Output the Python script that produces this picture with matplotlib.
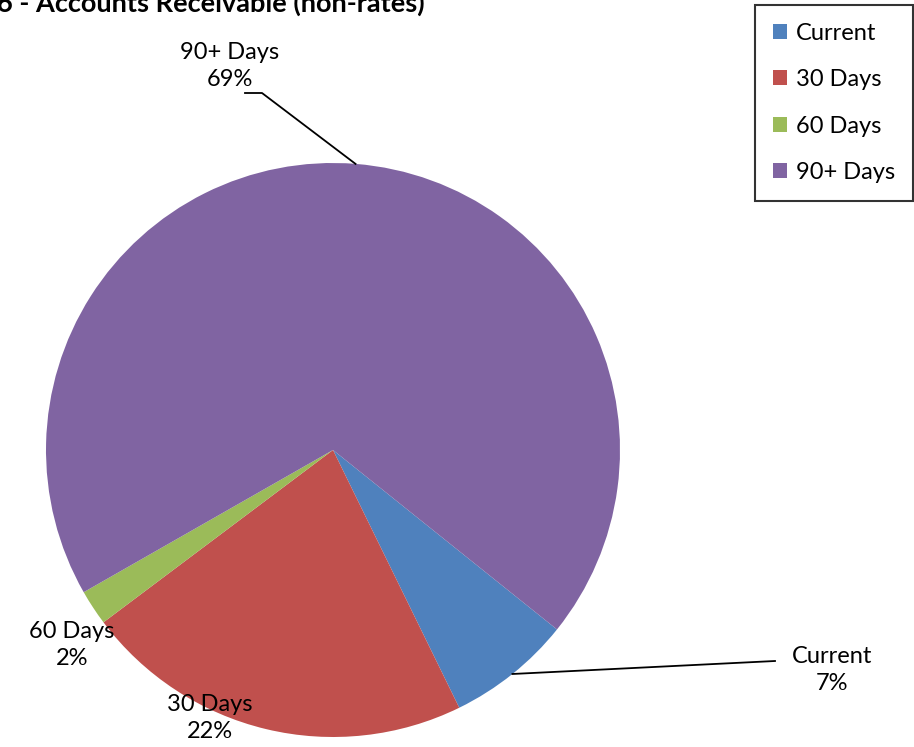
import numpy as np
import matplotlib.pyplot as plt

plt.rcParams["font.family"] = ["Lato", "DejaVu Sans"]

# data
categories = ["Current", "30 Days", "60 Days", "90+ Days"]
shares = [7, 22, 2, 69]
colors = ["#4F81BD", "#C0504D", "#9BBB59", "#8064A2"]
title = "6 - Accounts Receivable (non-rates)"

W, H = 914, 747
fig = plt.figure(figsize=(W / 100, H / 100), dpi=100)
ax = fig.add_axes([0, 0, 1, 1])

cx, cy, r = 333, H - 450, 287
wedges, _ = ax.pie(
    shares,
    colors=colors,
    startangle=-38.7,
    counterclock=False,
    center=(cx, cy),
    radius=r,
    wedgeprops=dict(linewidth=0),
    frame=True,
)
ax.set_xlim(0, W)
ax.set_ylim(0, H)
ax.set_aspect("equal")
ax.axis("off")

# label text centres in px from top-left, and whether a leader line is drawn
label_pos = {
    "Current": ((832, 670), True),
    "30 Days": ((210, 718), False),
    "60 Days": ((72, 645), False),
    "90+ Days": ((230, 66), True),
}
for w, name, val in zip(wedges, categories, shares):
    (tx, ty), leader = label_pos[name]
    ax.text(tx, H - ty, f"{name}\n{val}%", ha="center", va="center",
            fontsize=17, linespacing=1.35, color="black")
    if leader:
        mid = np.deg2rad((w.theta1 + w.theta2) / 2)
        ex, ey = cx + r * np.cos(mid), cy + r * np.sin(mid)
        if name == "Current":
            ax.plot([ex, 775], [ey, H - 661], color="black", lw=1.3)
        else:
            ax.plot([ex, 262, 245], [ey, H - 93, H - 93], color="black", lw=1.3)

leg = fig.legend(
    wedges, categories,
    loc="upper right", bbox_to_anchor=(913 / W, 1 - 5 / H),
    fontsize=17, frameon=True, fancybox=False, edgecolor="black",
    handlelength=0.6, handleheight=0.6, handletextpad=0.4,
    labelspacing=1.08, borderpad=0.75, borderaxespad=0,
)
leg.get_frame().set_linewidth(1.5)

fig.text(-3 / W, 1 - 12 / H, title, fontsize=19.5, fontweight="bold",
         ha="left", va="baseline")

fig.savefig("out.png", dpi=100)
